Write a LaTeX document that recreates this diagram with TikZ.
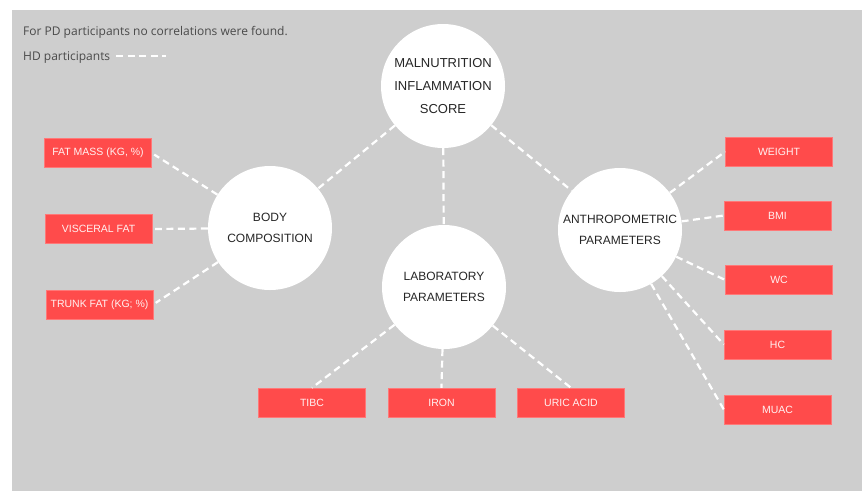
\documentclass[tikz,border=0pt]{standalone}
\usepackage{fontspec}
\setmainfont{Liberation Sans}
\newfontfamily\notefont{Open Sans}
\usetikzlibrary{positioning}
\definecolor{mgray}{HTML}{CECECE}
\definecolor{mred}{HTML}{FF4B4B}
\definecolor{mtext}{HTML}{262626}
\definecolor{mnote}{HTML}{4A4A4A}
\tikzset{hub/.style = {circle, fill=white, minimum size=124, inner sep=0, align=center,
                       text=mtext, font=\fontsize{12}{21}\selectfont}}
\tikzset{item/.style = {rectangle, fill=mred, draw=mred!75!white, minimum width=107,
                        minimum height=29, inner sep=0, text=white!92!mred,
                        font=\fontsize{10.5}{12}\selectfont}}
\tikzset{link/.style = {white, line width=2.2, dash pattern=on 7pt off 4.5pt}}
\tikzset{note/.style = {anchor=west, inner sep=0, text=mnote, font=\notefont\fontsize{12}{14}\selectfont}}

\begin{document}
\begin{tikzpicture}[x=1pt, y=-1pt]
    \useasboundingbox (0, 0) rectangle (862, 491);
    \fill [white] (0, 0) rectangle (862, 491);
    \fill [mgray] (12, 10) rectangle (862, 491);

    \node [note] (pdnote) at (23, 32) {For PD participants no correlations were found.};
    \node [note] (hdnote) at (23, 58) {HD participants};
    \coordinate (hdend) at (166, 56);
    \draw [link] ([xshift=6]hdnote.east |- hdend) -- (hdend);

    \node [hub, font=\fontsize{13}{23}\selectfont] (mis) at (443, 86) {MALNUTRITION\\INFLAMMATION\\SCORE};
    \node [hub] (body) at (270, 228) {BODY\\COMPOSITION};
    \node [hub] (lab) at (444, 287) {LABORATORY\\PARAMETERS};
    \node [hub] (anthro) at (620, 230) {ANTHROPOMETRIC\\PARAMETERS};

    \node [item] (fatmass) at (98, 153) {FAT MASS (KG, \%)};
    \node [item] (visceral) at (98.5, 229) {VISCERAL FAT};
    \node [item] (trunk) at (99.5, 304.5) {TRUNK FAT (KG; \%)};

    \node [item] (weight) at (779, 151.5) {WEIGHT};
    \node [item] (bmi) at (777.5, 215.5) {BMI};
    \node [item] (wc) at (779, 280) {WC};
    \node [item] (hc) at (777.5, 344.5) {HC};
    \node [item] (muac) at (777.5, 409.5) {MUAC};

    \node [item] (tibc) at (312, 402.5) {TIBC};
    \node [item] (iron) at (441.5, 402.5) {IRON};
    \node [item] (uric) at (571, 402.5) {URIC ACID};

    \draw [link] (mis) -- (body);
    \draw [link] (mis) -- (lab);
    \draw [link] (mis) -- (anthro);

    \draw [link, shorten >=3] (body) -- (fatmass.east);
    \draw [link, shorten >=3] (body) -- (visceral.east);
    \draw [link, shorten >=3] (body) -- (trunk.east);

    \draw [link] (anthro) -- (weight.west);
    \draw [link] (anthro) -- (bmi.west);
    \draw [link] (anthro) -- (wc.west);
    \draw [link] (anthro) -- (hc.west);
    \draw [link] (anthro) -- (muac.west);

    \draw [link] (lab) -- (tibc.north);
    \draw [link] (lab) -- (iron.north);
    \draw [link] (lab) -- (uric.north);
\end{tikzpicture}
\end{document}
